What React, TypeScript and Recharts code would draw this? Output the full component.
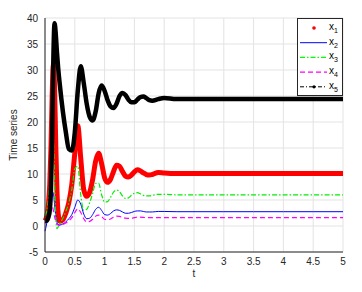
import React from 'react';
import { LineChart, Line, XAxis, YAxis, CartesianGrid, Legend } from 'recharts';

// sample times (denser where the transient is fast)
const time = [
    0, 0.02, 0.04, 0.06, 0.08, 0.1, 0.12, 0.14, 0.16, 0.18, 0.2, 0.22, 0.25, 0.3, 0.35, 0.4, 0.45, 0.5,
    0.55, 0.6, 0.65, 0.7, 0.75, 0.8, 0.85, 0.9, 0.95, 1.0, 1.05, 1.1, 1.15, 1.2, 1.25, 1.3, 1.35, 1.4,
    1.45, 1.5, 1.55, 1.6, 1.65, 1.7, 1.75, 1.8, 1.9, 2.0, 2.2, 2.5, 3, 3.5, 4, 4.5, 5,
];

const x1 = [
    1.0, 1.5, 2.5, 4.5, 8, 15, 25, 31, 27, 16, 7, 2.5, 0.9, 1.2, 2.5, 4.5, 8, 14,
    19.3, 13, 7, 5.7, 6.5, 9, 12.5, 14, 12, 9.3, 8.4, 9, 10.5, 11.7, 11.5, 10.5, 9.6, 9.4,
    9.8, 10.4, 10.8, 10.6, 10.2, 9.9, 9.8, 9.9, 10.3, 10.2, 10.1, 10.1, 10.1, 10.1, 10.1, 10.1, 10.1,
];

const x2 = [
    -1, 0, 1.2, 2.5, 4, 5.5, 6.6, 6.3, 4.2, 2, 0.8, 0.3, 0.2, 0.4, 0.8, 1.4, 2.2, 3.6,
    5, 4.2, 2.3, 1.4, 1.5, 2.2, 3.2, 3.6, 3.0, 2.2, 2.1, 2.4, 2.9, 3.1, 3.0, 2.7, 2.45, 2.45,
    2.6, 2.8, 2.9, 2.9, 2.8, 2.7, 2.7, 2.7, 2.8, 2.8, 2.75, 2.75, 2.75, 2.75, 2.75, 2.75, 2.75,
];

const x3 = [
    2, 2.5, 3.5, 5.5, 9, 15, 21, 18, 9, 2, -0.5, -0.2, 0.5, 1.5, 2.8, 4.5, 7, 11,
    11.5, 6, 3, 3.2, 4.5, 6.3, 8.2, 8.2, 6, 4.6, 4.7, 5.5, 6.5, 6.9, 6.6, 5.8, 5.3, 5.4,
    5.9, 6.3, 6.4, 6.2, 5.9, 5.8, 5.8, 5.9, 6.1, 6.1, 6.0, 6.0, 6.0, 6.0, 6.0, 6.0, 6.0,
];

const x4 = [
    0.5, 1, 1.8, 2.8, 3.7, 4.2, 4, 3, 1.8, 0.9, 0.4, 0.2, 0.1, 0.3, 0.6, 1.0, 1.6, 2.6,
    3.3, 2.6, 1.4, 0.8, 0.9, 1.3, 1.9, 2.1, 1.8, 1.3, 1.2, 1.35, 1.7, 1.9, 1.85, 1.65, 1.5, 1.45,
    1.5, 1.6, 1.7, 1.7, 1.65, 1.6, 1.6, 1.6, 1.6, 1.6, 1.6, 1.6, 1.6, 1.6, 1.6, 1.6, 1.6,
];

const x5 = [
    1.0, 1.0, 1.2, 1.8, 3, 7, 17, 32, 39, 37, 33.5, 30.5, 27, 22, 18, 14.8, 14.5, 18,
    26, 30.7, 27.5, 23.5, 21, 20.3, 22, 25.5, 27, 26, 24.2, 23, 22.7, 23.5, 25, 25.6, 25.2, 24.3,
    23.8, 23.8, 24.3, 24.8, 24.9, 24.6, 24.2, 24.1, 24.4, 24.6, 24.4, 24.4, 24.4, 24.4, 24.4, 24.4, 24.4,
];

const xTicks = [0, 0.5, 1, 1.5, 2, 2.5, 3, 3.5, 4, 4.5, 5];
const yTicks = [-5, 0, 5, 10, 15, 20, 25, 30, 35, 40];

const data = time.map((t, i) => ({ t, x1: x1[i], x2: x2[i], x3: x3[i], x4: x4[i], x5: x5[i] }));

const FONT = '"Liberation Sans", Arial, sans-serif';
const TEXT = '#262626';

const legendItems = [
    { key: 'x1', sub: '1', color: '#ff0000', kind: 'dot' },
    { key: 'x2', sub: '2', color: '#0000ff', kind: 'solid' },
    { key: 'x3', sub: '3', color: '#00ff00', kind: 'dashdot' },
    { key: 'x4', sub: '4', color: '#ff00ff', kind: 'dash' },
    { key: 'x5', sub: '5', color: '#000000', kind: 'dotline' },
];

const LegendBox = () => (
    <svg width={46} height={78} style={{ display: 'block' }}>
        <rect x={0.5} y={0.5} width={45} height={77} fill="#fff" stroke={TEXT} />
        {legendItems.map((it, i) => {
            const y = 10 + i * 14.7;
            return (
                <g key={it.key}>
                    {it.kind === 'dot' && <circle cx={17} cy={y} r={1.8} fill={it.color} />}
                    {it.kind === 'solid' && <line x1={3} x2={30} y1={y} y2={y} stroke={it.color} strokeWidth={1} />}
                    {it.kind === 'dashdot' && (
                        <line x1={3} x2={30} y1={y} y2={y} stroke={it.color} strokeWidth={1.2} strokeDasharray="5 2 1.5 2" />
                    )}
                    {it.kind === 'dash' && (
                        <line x1={3} x2={30} y1={y} y2={y} stroke={it.color} strokeWidth={1.2} strokeDasharray="5 3" />
                    )}
                    {it.kind === 'dotline' && (
                        <g>
                            <line x1={3} x2={30} y1={y} y2={y} stroke={it.color} strokeWidth={1} strokeDasharray="4 2 1 2" />
                            <circle cx={17} cy={y} r={1.6} fill={it.color} />
                        </g>
                    )}
                    <text x={32} y={y + 2} fontSize={10} fontFamily={FONT} fill="#000">
                        x<tspan fontSize={7} dy={3}>{it.sub}</tspan>
                    </text>
                </g>
            );
        })}
    </svg>
);

const YLabel = (props: any) => {
    const vb = props.viewBox || {};
    const cy = vb.y + vb.height / 2;
    return (
        <text x={17} y={cy} transform={`rotate(-90, 17, ${cy})`} textAnchor="middle" fontSize={10} fontFamily={FONT} fill={TEXT}>
            Time series
        </text>
    );
};

const XLabel = (props: any) => {
    const vb = props.viewBox || {};
    const cx = vb.x + vb.width / 2;
    return (
        <text x={cx} y={277} textAnchor="middle" fontSize={10} fontFamily={FONT} fill={TEXT}>
            t
        </text>
    );
};

const App: React.FC = () => {
    return (
        <div style={{ position: 'absolute', left: 0, top: 0, width: 362, height: 292, background: '#fff' }}>
            <LineChart width={362} height={292} data={data} margin={{ top: 18, right: 19, left: 0, bottom: 0 }}>
                <CartesianGrid stroke="#e3e3e3" strokeWidth={1} />
                <XAxis
                    dataKey="t"
                    type="number"
                    domain={[0, 5]}
                    ticks={xTicks}
                    height={40}
                    tickLine={false}
                    tickSize={4}
                    tickMargin={2}
                    tick={{ fontSize: 10, fontFamily: FONT, fill: TEXT }}
                    axisLine={{ stroke: TEXT }}
                    label={<XLabel />}
                />
                <XAxis xAxisId="top" orientation="top" dataKey="t" type="number" domain={[0, 5]} height={0} tick={false} tickLine={false} axisLine={{ stroke: TEXT }} />
                <YAxis
                    type="number"
                    domain={[-5, 40]}
                    ticks={yTicks}
                    width={45}
                    tickLine={false}
                    tickSize={5}
                    tickMargin={2}
                    tick={{ fontSize: 10, fontFamily: FONT, fill: TEXT }}
                    axisLine={{ stroke: TEXT }}
                    label={<YLabel />}
                />
                <YAxis yAxisId="right" orientation="right" domain={[-5, 40]} width={0} tick={false} tickLine={false} axisLine={{ stroke: TEXT }} />
                <Line type="monotone" dataKey="x1" stroke="#ff0000" strokeWidth={5} dot={false} isAnimationActive={false} />
                <Line type="monotone" dataKey="x2" stroke="#0000ff" strokeWidth={1} dot={false} isAnimationActive={false} />
                <Line type="monotone" dataKey="x3" stroke="#00ee00" strokeWidth={1.2} strokeDasharray="5 2 1.5 2" dot={false} isAnimationActive={false} />
                <Line type="monotone" dataKey="x4" stroke="#ff00ff" strokeWidth={1.2} strokeDasharray="5 3" dot={false} isAnimationActive={false} />
                <Line type="monotone" dataKey="x5" stroke="#000000" strokeWidth={4.5} dot={false} isAnimationActive={false} />
                <Legend
                    layout="vertical"
                    align="center"
                    verticalAlign="middle"
                    content={() => <LegendBox />}
                    wrapperStyle={{ top: 18, left: 297, width: 46, height: 78 }}
                />
            </LineChart>
        </div>
    );
};

export default App;
